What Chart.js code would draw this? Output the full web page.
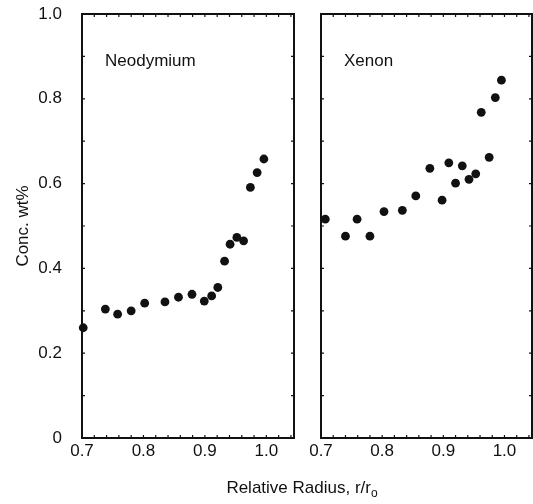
<!DOCTYPE html>
<html>
<head>
<meta charset="utf-8">
<script src="https://cdn.jsdelivr.net/npm/chart.js@4/dist/chart.umd.min.js"></script>
<style>
  html, body { margin: 0; padding: 0; background: #fff; }
  #wrap { position: relative; width: 533px; height: 504px; overflow: hidden; }
  #left { position: absolute; left: 0; top: 0; }
  #right { position: absolute; left: 305px; top: 0; }
  #xtitle {
    position: absolute; left: 0; width: 604px; top: 478px;
    text-align: center; font: 17px "Liberation Sans", Arial, sans-serif; color: #111;
  }
  #xtitle sub { font-size: 12px; vertical-align: -4px; }
</style>
</head>
<body>
<div id="wrap">
  <canvas id="left" width="305" height="504"></canvas>
  <canvas id="right" width="228" height="504"></canvas>
  <div id="xtitle">Relative Radius, r/r<sub>o</sub></div>
</div>
<script>
// Neodymium panel
const ndRadius = [0.702, 0.738, 0.758, 0.780, 0.802, 0.835, 0.857, 0.879, 0.899, 0.911,
                  0.921, 0.932, 0.941, 0.952, 0.963, 0.974, 0.985, 0.996];
const ndConc   = [0.260, 0.304, 0.292, 0.300, 0.318, 0.321, 0.332, 0.339, 0.323, 0.335,
                  0.355, 0.417, 0.457, 0.473, 0.465, 0.591, 0.626, 0.658];

// Xenon panel
const xeRadius = [0.707, 0.740, 0.759, 0.780, 0.803, 0.833, 0.855, 0.878, 0.898, 0.909,
                  0.920, 0.931, 0.942, 0.953, 0.962, 0.975, 0.985, 0.995];
const xeConc   = [0.516, 0.476, 0.516, 0.476, 0.534, 0.537, 0.571, 0.636, 0.561, 0.649,
                  0.601, 0.642, 0.610, 0.623, 0.768, 0.662, 0.803, 0.844];

// Axes
const xTicks = [0.7, 0.8, 0.9, 1.0];
const yTicks = [0, 0.2, 0.4, 0.6, 0.8, 1.0];
const xMinor = [0.72, 0.74, 0.76, 0.78, 0.8, 0.82, 0.84, 0.86, 0.88, 0.9,
                0.92, 0.94, 0.96, 0.98, 1.0, 1.02, 1.04];
const yMinor = [0.1, 0.2, 0.3, 0.4, 0.5, 0.6, 0.7, 0.8, 0.9];

const FONT = "'Liberation Sans', Arial, sans-serif";
const INK = "#111";

// Frame, inward ticks and panel name
const panelPlugin = {
  id: "panel",
  afterDraw(chart, args, opts) {
    const { ctx, chartArea: a, scales: { x, y } } = chart;
    ctx.save();
    ctx.strokeStyle = INK;
    ctx.lineWidth = 1.2;
    ctx.beginPath();
    xMinor.forEach(v => {
      const px = x.getPixelForValue(v);
      if (px <= a.left + 1 || px >= a.right - 1) return;
      ctx.moveTo(px, a.bottom); ctx.lineTo(px, a.bottom - 3);
      ctx.moveTo(px, a.top); ctx.lineTo(px, a.top + 3);
    });
    yMinor.forEach(v => {
      const py = y.getPixelForValue(v);
      ctx.moveTo(a.left, py); ctx.lineTo(a.left + 3, py);
      ctx.moveTo(a.right, py); ctx.lineTo(a.right - 3, py);
    });
    ctx.stroke();
    ctx.lineWidth = 2;
    ctx.strokeRect(a.left, a.top, a.right - a.left, a.bottom - a.top);
    ctx.fillStyle = INK;
    ctx.font = "17px " + FONT;
    ctx.textBaseline = "alphabetic";
    ctx.fillText(opts.label, a.left + 23, a.top + 52);
    ctx.restore();
  }
};

function makeOptions(label, showY, pad) {
  return {
    responsive: false,
    animation: false,
    layout: { padding: pad, autoPadding: false },
    plugins: {
      legend: { display: false },
      tooltip: { enabled: false },
      panel: { label }
    },
    scales: {
      x: {
        type: "linear",
        min: 0.7,
        max: 1.045,
        afterBuildTicks: s => { s.ticks = xTicks.map(v => ({ value: v })); },
        afterFit: s => {
          s.height = 66;
          s.paddingLeft = 0;
          s.paddingRight = 0;
        },
        grid: { display: false },
        border: { display: false },
        ticks: {
          padding: -5,
          color: INK,
          font: { family: FONT, size: 17 },
          callback: v => v.toFixed(1)
        }
      },
      y: {
        type: "linear",
        display: showY,
        min: 0,
        max: 1.0,
        afterBuildTicks: s => { s.ticks = yTicks.map(v => ({ value: v })); },
        afterFit: s => {
          s.width = showY ? 82 : 0;
          s.paddingTop = 0;
          s.paddingBottom = 0;
        },
        grid: { display: false },
        border: { display: false },
        title: {
          display: true,
          text: "Conc. wt%",
          color: INK,
          font: { family: FONT, size: 17 },
          padding: { top: 13, bottom: 0 }
        },
        ticks: {
          padding: 12,
          color: INK,
          font: { family: FONT, size: 17 },
          callback: v => (v === 0 ? "0" : v.toFixed(1))
        }
      }
    }
  };
}

function makeDataset(xs, ys) {
  return {
    data: xs.map((v, i) => ({ x: v, y: ys[i] })),
    pointRadius: 4.4,
    pointBackgroundColor: INK,
    pointBorderWidth: 0,
    showLine: false,
    clip: false
  };
}

new Chart(document.getElementById("left"), {
  type: "scatter",
  data: { datasets: [makeDataset(ndRadius, ndConc)] },
  options: makeOptions("Neodymium", true, { left: 0, top: 14, right: 11, bottom: 0 }),
  plugins: [panelPlugin]
});

new Chart(document.getElementById("right"), {
  type: "scatter",
  data: { datasets: [makeDataset(xeRadius, xeConc)] },
  options: makeOptions("Xenon", false, { left: 16, top: 14, right: 1, bottom: 0 }),
  plugins: [panelPlugin]
});
</script>
</body>
</html>
